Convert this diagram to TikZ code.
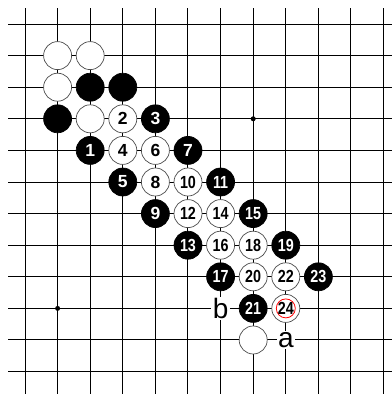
\documentclass[tikz,border=0pt]{standalone}
\usepackage{fontspec}
\setmainfont{Liberation Sans}
\usepackage{tikz}

\newcommand{\angosto}[1]{\scalebox{0.82}[1]{#1}}

\begin{document}
\begin{tikzpicture}[
    x=32.6pt, y=31.6pt,
    every node/.style={inner sep=0pt}
]
    \tikzset{
        piedra/.style={circle, draw, minimum size=28pt, inner sep=0pt, line width=0.7pt,
            font=\bfseries\fontsize{17.5}{17.5}\selectfont},
        negra/.style={piedra, fill=black, text=white},
        blanca/.style={piedra, fill=white, draw=black!70},
        marcada/.style={blanca, path picture={
            \draw[red, line width=0.8pt] (path picture bounding box.center) circle[radius=9.5pt];}},
        hoshi/.style={circle, fill=black, minimum size=5pt, inner sep=0pt},
        letra/.style={fill=white, inner sep=1.5pt, font=\fontsize{28}{28}\selectfont},
        rejilla/.style={line width=1pt}
    }

    \useasboundingbox (-0.767,-0.709) rectangle (11.258,11.76);

    % Rejilla
    \draw[rejilla, step=1] (-0.52,-0.71) grid (11.26,11.51);
    \node[hoshi] (h1) at (7,8) {};
    \node[hoshi] (h2) at (1,2) {};

    % Piedras iniciales
    \node[blanca] (w1) at (1,10) {};
    \node[blanca] (w2) at (2,10) {};
    \node[blanca] (w3) at (1,9)  {};
    \node[negra]  (k1) at (2,9)  {};
    \node[negra]  (k2) at (3,9)  {};
    \node[negra]  (k3) at (1,8)  {};
    \node[blanca] (w4) at (2,8)  {};
    \node[blanca] (w5) at (7,1)  {};

    % Secuencia
    \node[negra]   (n1)  at (2,7) {1};
    \node[blanca]  (n2)  at (3,8) {2};
    \node[negra]   (n3)  at (4,8) {3};
    \node[blanca]  (n4)  at (3,7) {4};
    \node[negra]   (n5)  at (3,6) {5};
    \node[blanca]  (n6)  at (4,7) {6};
    \node[negra]   (n7)  at (5,7) {7};
    \node[blanca]  (n8)  at (4,6) {8};
    \node[negra]   (n9)  at (4,5) {9};
    \node[blanca]  (n10) at (5,6) {\angosto{10}};
    \node[negra]   (n11) at (6,6) {\angosto{11}};
    \node[blanca]  (n12) at (5,5) {\angosto{12}};
    \node[negra]   (n13) at (5,4) {\angosto{13}};
    \node[blanca]  (n14) at (6,5) {\angosto{14}};
    \node[negra]   (n15) at (7,5) {\angosto{15}};
    \node[blanca]  (n16) at (6,4) {\angosto{16}};
    \node[negra]   (n17) at (6,3) {\angosto{17}};
    \node[blanca]  (n18) at (7,4) {\angosto{18}};
    \node[negra]   (n19) at (8,4) {\angosto{19}};
    \node[blanca]  (n20) at (7,3) {\angosto{20}};
    \node[negra]   (n21) at (7,2) {\angosto{21}};
    \node[blanca]  (n22) at (8,3) {\angosto{22}};
    \node[negra]   (n23) at (9,3) {\angosto{23}};
    \node[marcada] (n24) at (8,2) {\angosto{24}};

    % Letras
    \node[letra] (b) at (6,2) {b};
    \node[letra] (a) at (8,1) {a};
\end{tikzpicture}
\end{document}
